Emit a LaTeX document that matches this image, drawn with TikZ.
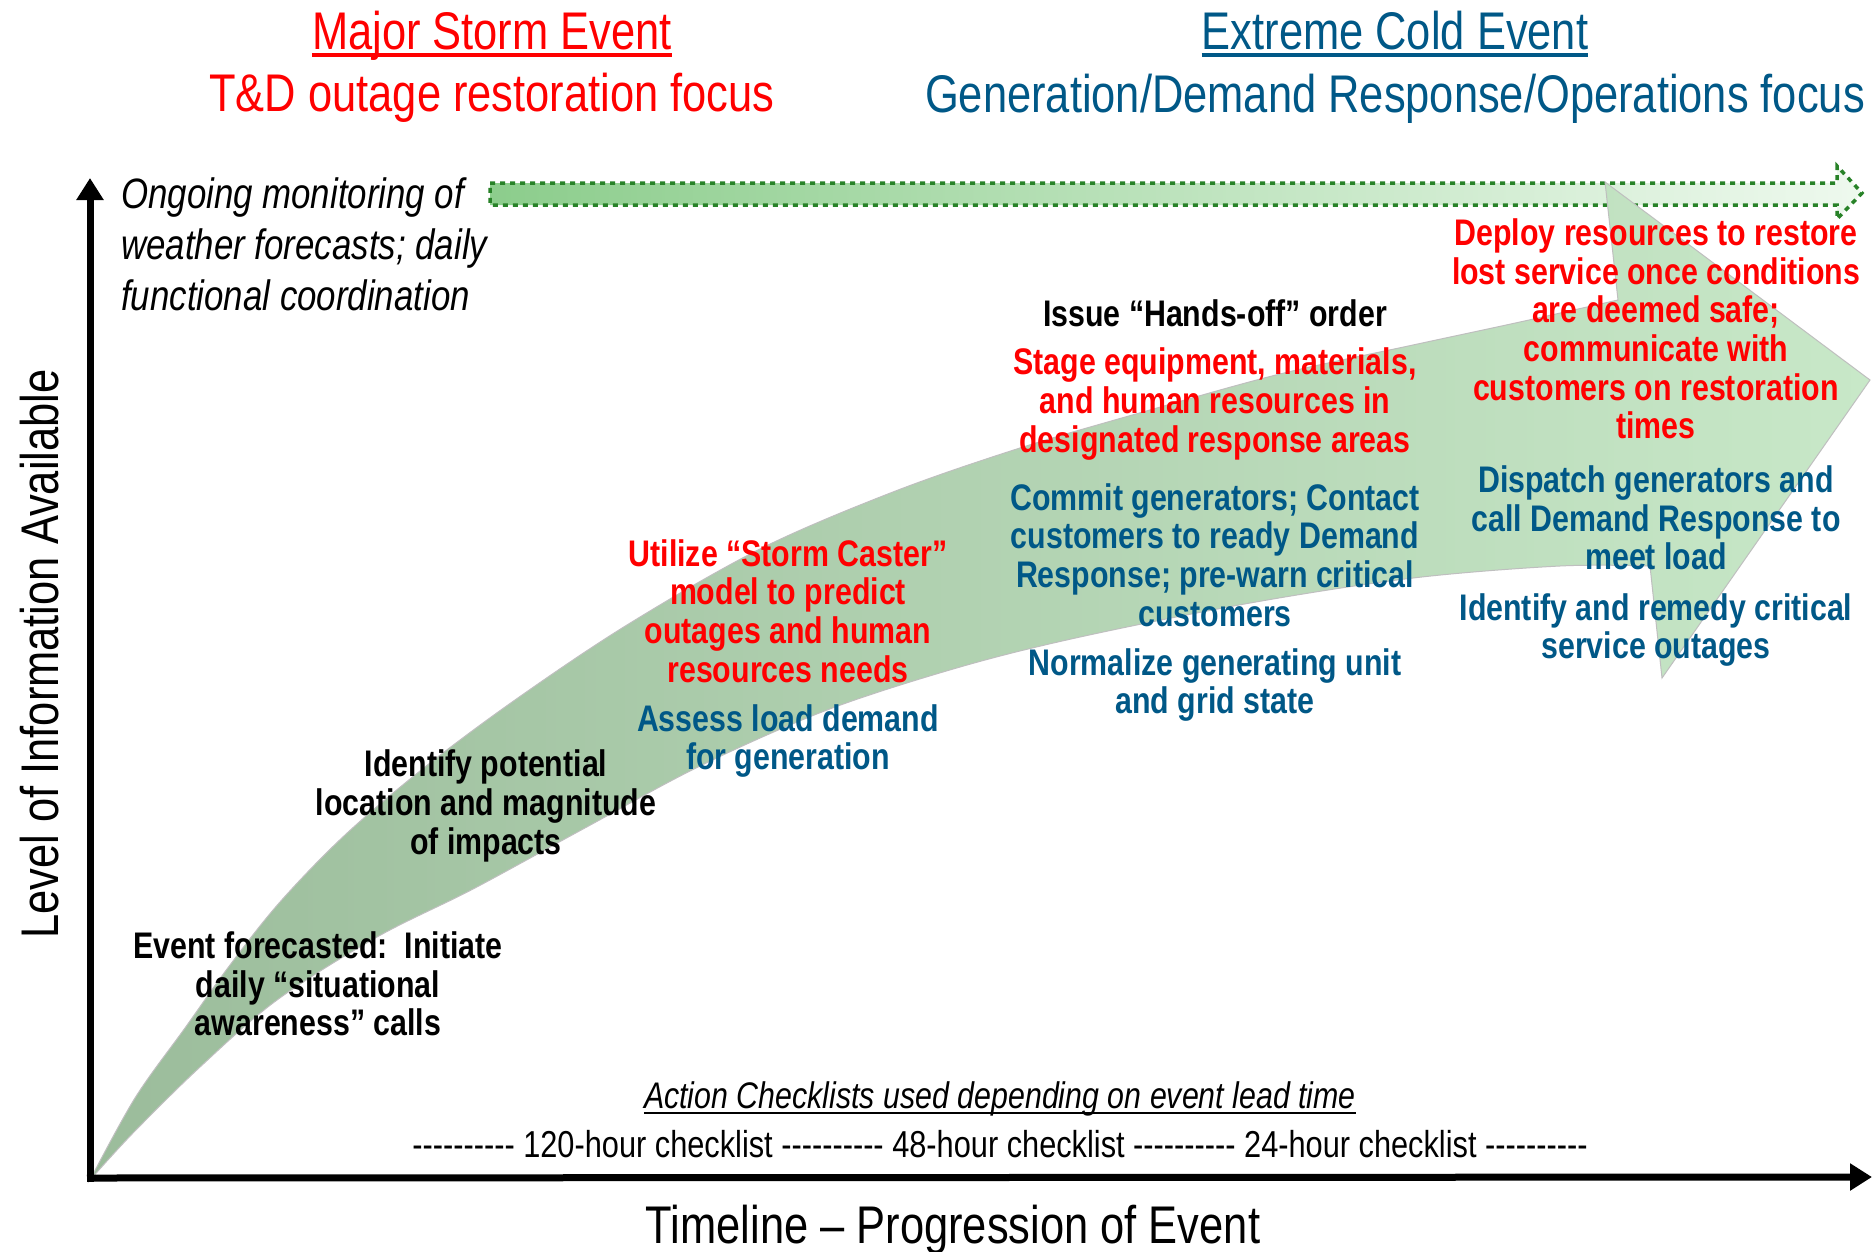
\documentclass[tikz,border=0pt]{standalone}
\usepackage{fontspec}
\setmainfont{Liberation Sans}[FakeStretch=0.82]
\usetikzlibrary{arrows.meta}
\definecolor{myred}{RGB}{255,0,0}
\definecolor{myblue}{RGB}{0,88,135}
\definecolor{dgreen}{RGB}{40,130,40}
\definecolor{dashL}{RGB}{140,205,140}
\definecolor{dashR}{RGB}{238,249,238}
\definecolor{tailgreen}{RGB}{155,188,155}
\definecolor{headgreen}{RGB}{200,232,200}
\tikzset{
  axisline/.style={line width=7pt, -{Triangle[length=22pt,width=26pt]}},
  txt/.style={align=center, inner sep=0pt, font=\fontsize{37}{38.6}\selectfont\bfseries},
  redtxt/.style={txt, text=myred},
  bluetxt/.style={txt, text=myblue},
  blacktxt/.style={txt, text=black},
  titletxt/.style={inner sep=0pt, anchor=base, font=\fontsize{53}{60}\selectfont},
  plaintxt/.style={inner sep=0pt, font=\fontsize{37.5}{44}\selectfont},
}
\begin{document}
\begin{tikzpicture}[x=1pt,y=-1pt]
\useasboundingbox (0,0) rectangle (1872,1251);
\fill[white] (0,0) rectangle (1872,1251);

% ongoing monitoring dashed arrow
\path[draw=dgreen, line width=3.5pt, dash pattern=on 5pt off 5pt, left color=dashL, right color=dashR]
 (490,183) -- (1837,183) -- (1837,166) -- (1862,193) -- (1837,219) -- (1837,205) -- (490,205) -- cycle;

% big curved arrow
\path[draw=black!25, line width=1pt, left color=tailgreen, right color=headgreen]
 plot[smooth, tension=0.55] coordinates {(90,1180) (135,1098) (185,1028) (230,965) (280,902) (345,835) (425,767) (515,700) (627,625) (760,549) (893,492) (1020,448) (1150,410) (1280,374) (1413,345) (1520,322) (1618,300)}
 -- (1605,182) -- (1870,380) -- (1662,678)
 -- plot[smooth, tension=0.55] coordinates {(1650,566) (1560,566) (1413,578) (1250,603) (1080,637) (960,667) (827,710) (700,766) (583,829) (473,889) (377,937) (277,1000) (200,1067) (133,1133) (90,1180)}
 -- cycle;

% axes
\coordinate (O) at (90,1182);
\coordinate (Oh) at (87,1178);
\coordinate (ytop) at (90,178);
\coordinate (xend) at (1872,1177);
\draw[axisline] (O) -- (ytop);
\draw[axisline] (Oh) -- (xend);

% titles
\node[titletxt, text=myred] (t1) at (492,49) {Major Storm Event};
\draw[myred, line width=3.5pt] ([yshift=-6pt]t1.base west) -- ([yshift=-6pt]t1.base east);
\node[titletxt, text=myred] (t2) at (492,111) {T\&D outage restoration focus};
\node[titletxt, text=myblue] (t3) at (1395,49) {Extreme Cold Event};
\draw[myblue, line width=3.5pt] ([yshift=-6pt]t3.base west) -- ([yshift=-6pt]t3.base east);
\node[titletxt, text=myblue] (t4) at (1395,112) {Generation/Demand Response/Operations focus};

% axis labels
\node[titletxt, rotate=90] (ylab) at (58,654) {Level of Information Available};
\node[titletxt] (xlab) at (953,1243) {Timeline – Progression of Event};

% ongoing monitoring text
\node[inner sep=0pt, anchor=west, align=left, font=\fontsize{42.5}{51}\selectfont\itshape] (ongo) at (121,244)
 {Ongoing monitoring of\\weather forecasts; daily\\functional coordination};

% text blocks
\node[blacktxt] (ev) at (318,984) {Event forecasted:\ \ Initiate\\daily “situational\\awareness” calls};
\node[blacktxt] (idp) at (486,806) {Identify potential\\location and magnitude\\of impacts};
\node[redtxt] (util) at (788,611) {Utilize “Storm Caster”\\model to predict\\outages and human\\resources needs};
\node[bluetxt] (assess) at (788,741) {Assess load demand\\for generation};
\node[blacktxt] (issue) at (1215,313) {Issue “Hands-off” order};
\node[redtxt] (stage) at (1215,404) {Stage equipment, materials,\\and human resources in\\designated response areas};
\node[bluetxt] (commit) at (1215,555) {Commit generators; Contact\\customers to ready Demand\\Response; pre-warn critical\\customers};
\node[bluetxt] (norm) at (1215,685) {Normalize generating unit\\and grid state};
\node[redtxt] (deploy) at (1656,329) {Deploy resources to restore\\lost service once conditions\\are deemed safe;\\communicate with\\customers on restoration\\times};
\node[bluetxt] (disp) at (1656,518) {Dispatch generators and\\call Demand Response to\\meet load};
\node[bluetxt] (iden) at (1656,630) {Identify and remedy critical\\service outages};

% checklists
\node[plaintxt, anchor=base, font=\fontsize{37}{44}\selectfont\itshape] (act) at (1000,1108) {Action Checklists used depending on event lead time};
\draw[line width=2.5pt] ([yshift=-5pt]act.base west) -- ([yshift=-5pt]act.base east);
\node[plaintxt, anchor=base] (chk) at (1000,1157) {-{}-{}-{}-{}-{}-{}-{}-{}-{}- 120-hour checklist -{}-{}-{}-{}-{}-{}-{}-{}-{}- 48-hour checklist -{}-{}-{}-{}-{}-{}-{}-{}-{}- 24-hour checklist -{}-{}-{}-{}-{}-{}-{}-{}-{}-};
\end{tikzpicture}
\end{document}
